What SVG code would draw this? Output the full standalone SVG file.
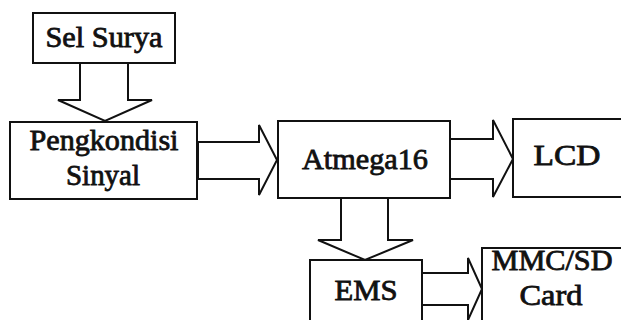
<svg xmlns="http://www.w3.org/2000/svg" width="621" height="320" viewBox="0 0 621 320">
  <style>
    .box { fill: #fff; stroke: #111; stroke-width: 2; }
    .arrow { fill: #fff; stroke: #111; stroke-width: 2; stroke-linejoin: miter; }
    /* heavy serif labels: regular face thickened with a thin outline */
    .label { font-family: 'Liberation Serif', serif; font-weight: 400; font-size: 29px; fill: #111; stroke: #111; stroke-width: 0.8; text-anchor: middle; }
  </style>
  <rect width="621" height="320" fill="#fff"/>

  <!-- block arrows between the modules -->
  <g id="connectors">
    <polygon class="arrow" points="80,63 128,63 128,100 152,100 105,121 58,100 80,100"/>
    <polygon class="arrow" points="198,142 259,142 259,125 277,160 259,195 259,179 198,179"/>
    <polygon class="arrow" points="450,139 493,139 493,120 513,159 493,197 493,179 450,179"/>
    <polygon class="arrow" points="341,198 388,198 388,240 413,240 365,260 318,240 341,240"/>
    <polygon class="arrow" points="422,273 468,273 468,258 482,289 468,320 468,305 422,305"/>
  </g>

  <g id="sel-surya">
    <rect class="box" x="33" y="13" width="142" height="50"/>
    <text class="label" x="104" y="47" textLength="117" lengthAdjust="spacingAndGlyphs">Sel Surya</text>
  </g>

  <g id="pengkondisi">
    <rect class="box" x="10" y="122" width="187" height="77"/>
    <text class="label" x="104" y="150" textLength="149" lengthAdjust="spacingAndGlyphs">Pengkondisi</text>
    <text class="label" x="103" y="185" textLength="74" lengthAdjust="spacingAndGlyphs">Sinyal</text>
  </g>

  <g id="atmega16">
    <rect class="box" x="278" y="121" width="172" height="77"/>
    <text class="label" x="365" y="169" textLength="126" lengthAdjust="spacingAndGlyphs">Atmega16</text>
  </g>

  <g id="lcd">
    <rect class="box" x="513" y="119" width="120" height="78"/>
    <text class="label" x="567" y="165" textLength="67" lengthAdjust="spacingAndGlyphs">LCD</text>
  </g>

  <g id="ems">
    <rect class="box" x="310" y="260" width="112" height="70"/>
    <text class="label" x="366" y="300" textLength="63" lengthAdjust="spacingAndGlyphs">EMS</text>
  </g>

  <g id="mmc-sd">
    <rect class="box" x="482" y="248" width="150" height="82"/>
    <text class="label" x="552" y="270" textLength="121" lengthAdjust="spacingAndGlyphs">MMC/SD</text>
    <text class="label" x="551" y="305" textLength="63" lengthAdjust="spacingAndGlyphs">Card</text>
  </g>
</svg>
